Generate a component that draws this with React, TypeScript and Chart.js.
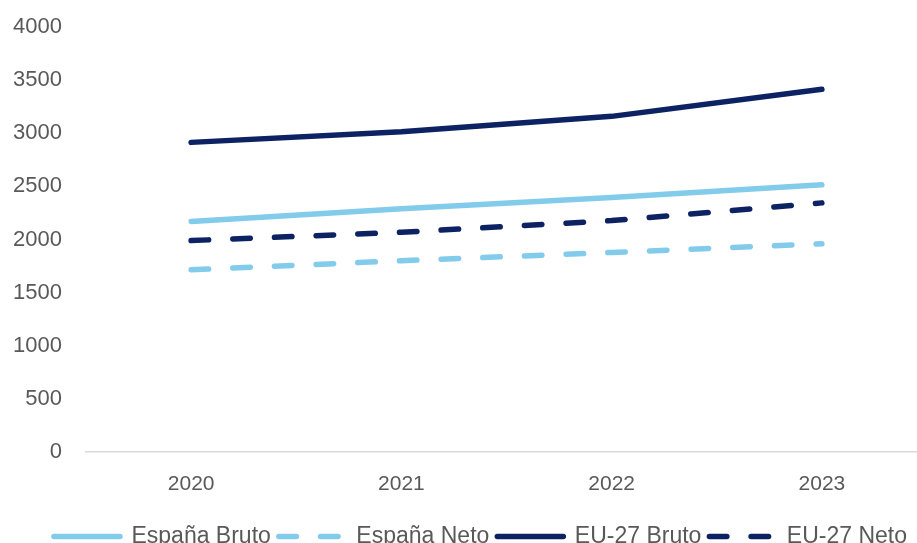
import React, { useEffect, useRef } from "react";
import { Chart, registerables } from "chart.js";

Chart.register(...registerables);

const years = ["2020", "2021", "2022", "2023"];
const espanaBruto = [2170, 2290, 2395, 2515];
const espanaNeto = [1715, 1800, 1878, 1960];
const eu27Bruto = [2915, 3015, 3160, 3415];
const eu27Neto = [1990, 2068, 2178, 2345];
const yTicks = [0, 500, 1000, 1500, 2000, 2500, 3000, 3500, 4000];

const LIGHT = "#83CBEB";
const DARK = "#0C2262";
const TEXT = "#595959";
const DASH = [17.5, 24.2];
const FONT = "'Liberation Sans', Arial, sans-serif";

const legendShift = {
  id: "legendShift",
  afterLayout(chart: any) {
    const lg = chart.legend;
    if (!lg) return;
    lg.left += 17;
    lg.right += 17;
  },
};

export default function App() {
  const ref = useRef<HTMLCanvasElement | null>(null);
  useEffect(() => {
    if (!ref.current) return;
    const mk = (label: string, data: number[], color: string, dashed: boolean) => ({
      label,
      data,
      borderColor: color,
      backgroundColor: color,
      borderWidth: 5.5,
      borderDash: dashed ? DASH : [],
      borderCapStyle: "round" as const,
      borderJoinStyle: "round" as const,
      pointRadius: 0,
      pointHoverRadius: 0,
      tension: 0,
      fill: false,
    });
    const chart = new Chart(ref.current, {
      type: "line",
      data: {
        labels: years,
        datasets: [
          mk("España Bruto", espanaBruto, LIGHT, false),
          mk("España Neto", espanaNeto, LIGHT, true),
          mk("EU-27 Bruto", eu27Bruto, DARK, false),
          mk("EU-27 Neto", eu27Neto, DARK, true),
        ],
      },
      plugins: [legendShift],
      options: {
        animation: false,
        responsive: false,
        maintainAspectRatio: false,
        layout: { padding: { top: 5, left: 0, right: 0, bottom: 0 } },
        plugins: {
          tooltip: { enabled: false },
          legend: {
            position: "bottom",
            labels: {
              usePointStyle: true,
              pointStyle: "line",
              pointStyleWidth: 66,
              boxHeight: 5,
              padding: 8,
              color: TEXT,
              font: { family: FONT, size: 23 },
              generateLabels: (c: any) =>
                c.data.datasets.map((ds: any, i: number) => ({
                  text: ds.label,
                  fillStyle: ds.borderColor,
                  strokeStyle: ds.borderColor,
                  fontColor: TEXT,
                  lineWidth: 5.5,
                  lineDash: ds.borderDash,
                  lineCap: "round",
                  pointStyle: "line",
                  hidden: false,
                  datasetIndex: i,
                })),
            },
          },
        },
        scales: {
          x: {
            offset: true,
            grid: { display: false, drawTicks: false },
            border: { display: true, color: "#D9D9D9", width: 1.5 },
            ticks: {
              color: TEXT,
              padding: 20,
              font: { family: FONT, size: 21 },
            },
          },
          y: {
            min: 0,
            max: 4000,
            afterBuildTicks: (axis: any) => {
              axis.ticks = yTicks.map((v) => ({ value: v }));
            },
            afterFit: (axis: any) => {
              axis.width = 86;
            },
            grid: { display: false, drawTicks: false },
            border: { display: false },
            ticks: {
              color: TEXT,
              padding: 24,
              font: { family: FONT, size: 22 },
              callback: (v: any) => String(v),
            },
          },
        },
      },
    });
    return () => chart.destroy();
  }, []);
  return (
    <div style={{ position: "absolute", left: 0, top: 0, width: 917, height: 543, overflow: "hidden", background: "#fff" }}>
      <canvas ref={ref} width={927} height={568} style={{ display: "block", position: "relative", top: -10 }} />
    </div>
  );
}
